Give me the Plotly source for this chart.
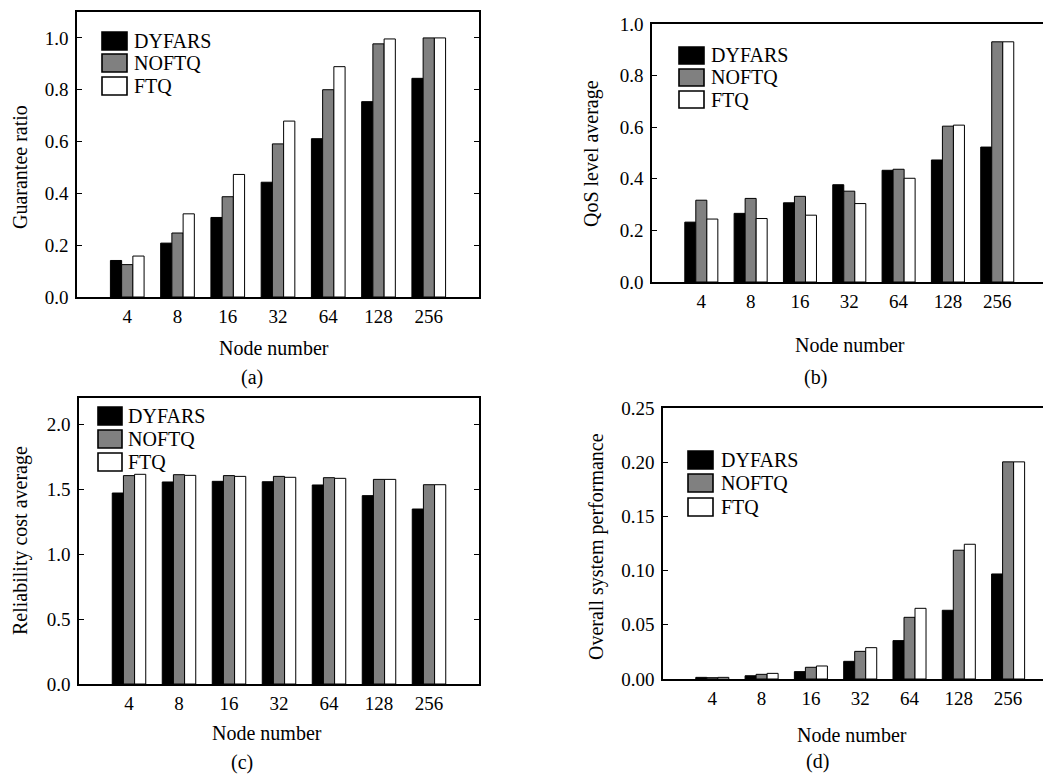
import plotly.graph_objects as go

# the page is rendered with an 8px body margin, so the figure is shrunk by that amount
OFF = 8
W, H = 1051 - OFF, 774 - OFF
FONT = "Liberation Serif"

nodes = ["4", "8", "16", "32", "64", "128", "256"]
series_names = ["DYFARS", "NOFTQ", "FTQ"]
series_colors = ["#000000", "#808080", "#ffffff"]

# (a) Guarantee ratio
a_dyfars = [0.141, 0.208, 0.307, 0.443, 0.611, 0.754, 0.844]
a_noftq = [0.125, 0.247, 0.387, 0.591, 0.800, 0.977, 1.000]
a_ftq = [0.158, 0.321, 0.473, 0.679, 0.889, 0.996, 1.000]

# (b) QoS level average
b_dyfars = [0.232, 0.266, 0.307, 0.377, 0.433, 0.473, 0.523]
b_noftq = [0.317, 0.324, 0.332, 0.352, 0.437, 0.604, 0.931]
b_ftq = [0.244, 0.246, 0.259, 0.304, 0.402, 0.608, 0.931]

# (c) Reliability cost average
c_dyfars = [1.469, 1.554, 1.559, 1.556, 1.531, 1.449, 1.346]
c_noftq = [1.603, 1.610, 1.603, 1.597, 1.587, 1.574, 1.533]
c_ftq = [1.613, 1.605, 1.597, 1.590, 1.582, 1.574, 1.533]

# (d) Overall system performance
d_dyfars = [0.0015, 0.0030, 0.0068, 0.0163, 0.0354, 0.0634, 0.0969]
d_noftq = [0.0012, 0.0043, 0.0108, 0.0255, 0.0569, 0.1188, 0.2003]
d_ftq = [0.0015, 0.0052, 0.0120, 0.0289, 0.0652, 0.1243, 0.2003]

panels = [
    dict(data=[a_dyfars, a_noftq, a_ftq], ytitle="Guarantee ratio", label="(a)",
         box=(77, 479, 12, 297), xr=[-1, 7], yr=[0, 1.1], dtick=0.2, fmt=".1f", mirror_y=True,
         leg=(102, 127, [32, 54, 77], 18, 132),
         ytitle_pos=(20, 167), xtitle_pos=(274, 348), label_pos=(252, 377)),
    dict(data=[b_dyfars, b_noftq, b_ftq], ytitle="QoS level average", label="(b)",
         box=(652, 1051, 24, 282), xr=[-1, 7.09], yr=[0, 1.0], dtick=0.2, fmt=".1f", mirror_y=False,
         leg=(679, 704, [47, 69, 91], 17, 709),
         ytitle_pos=(592, 154), xtitle_pos=(850, 345), label_pos=(815, 377)),
    dict(data=[c_dyfars, c_noftq, c_ftq], ytitle="Reliability cost average", label="(c)",
         box=(79, 479, 398, 684), xr=[-1, 7], yr=[0, 2.2], dtick=0.5, fmt=".1f", mirror_y=True,
         leg=(98, 122, [407, 430, 453], 18, 126),
         ytitle_pos=(20, 541), xtitle_pos=(267, 733), label_pos=(242, 762)),
    dict(data=[d_dyfars, d_noftq, d_ftq], ytitle="Overall system performance", label="(d)",
         box=(663, 1051, 408, 679), xr=[-1, 6.87], yr=[0, 0.25], dtick=0.05, fmt=".2f", mirror_y=False,
         leg=(688, 713, [451, 474, 498], 18, 719),
         ytitle_pos=(596, 547), xtitle_pos=(852, 735), label_pos=(817, 761)),
]

fig = go.Figure()
shapes = []
annotations = []

def px_x(v):
    return min(1.0, (v - OFF) / W)

def px_y(v):
    return 1 - (v - OFF) / H

for i, p in enumerate(panels):
    n = i + 1
    xa = "x" if n == 1 else f"x{n}"
    ya = "y" if n == 1 else f"y{n}"
    for vals, name, col in zip(p["data"], series_names, series_colors):
        fig.add_trace(go.Bar(
            x=list(range(len(nodes))), y=vals, name=name,
            marker=dict(color=col, line=dict(color="#000000", width=1)),
            xaxis=xa, yaxis=ya, showlegend=False,
        ))
    x0, x1, y0, y1 = p["box"]
    xkey = "xaxis" if n == 1 else f"xaxis{n}"
    ykey = "yaxis" if n == 1 else f"yaxis{n}"
    top_key = f"xaxis{n + 4}"
    fig.update_layout(**{
        xkey: dict(
            domain=[px_x(x0), px_x(x1)], anchor=ya, range=p["xr"],
            tickmode="array", tickvals=list(range(len(nodes))), ticktext=nodes,
            ticks="", showline=True, linecolor="black", linewidth=1.6, mirror=True,
            showgrid=False, zeroline=False, ticklabelstandoff=1, automargin=False,
            tickfont=dict(family=FONT, size=19, color="black"),
        ),
        ykey: dict(
            domain=[px_y(y1), px_y(y0)], anchor=xa, range=p["yr"],
            dtick=p["dtick"], tick0=0, tickformat=p["fmt"],
            ticks="inside", ticklen=5, tickwidth=1.2, tickcolor="black",
            showline=True, linecolor="black", linewidth=1.6,
            mirror="ticks" if p["mirror_y"] else False,
            showgrid=False, zeroline=False, ticklabelstandoff=3, automargin=False,
            tickfont=dict(family=FONT, size=19, color="black"),
        ),
        top_key: dict(
            overlaying=xa, anchor=ya, side="top", range=p["xr"],
            tickmode="array", tickvals=list(range(len(nodes))),
            ticks="inside", ticklen=4, tickwidth=1.2, tickcolor="black",
            showticklabels=False, showline=False, showgrid=False, zeroline=False,
            automargin=False,
        ),
    })
    # legend
    lx0, lx1, lys, lh, tx = p["leg"]
    for ly, name, col in zip(lys, series_names, series_colors):
        shapes.append(dict(type="rect", xref="paper", yref="paper",
                           x0=px_x(lx0), x1=px_x(lx1), y0=px_y(ly + lh), y1=px_y(ly),
                           fillcolor=col, line=dict(color="black", width=1.6)))
        annotations.append(dict(text=name, xref="paper", yref="paper",
                                x=px_x(tx), y=px_y(ly + lh / 2), xanchor="left", yanchor="middle",
                                showarrow=False, font=dict(family=FONT, size=20, color="black")))
    # titles
    tx_, ty_ = p["ytitle_pos"]
    annotations.append(dict(text=p["ytitle"], xref="paper", yref="paper",
                            x=px_x(tx_), y=px_y(ty_), xanchor="center", yanchor="middle",
                            textangle=-90, showarrow=False,
                            font=dict(family=FONT, size=20, color="black")))
    xx, xy = p["xtitle_pos"]
    annotations.append(dict(text="Node number", xref="paper", yref="paper",
                            x=px_x(xx), y=px_y(xy), xanchor="center", yanchor="middle",
                            showarrow=False, font=dict(family=FONT, size=20, color="black")))
    lbx, lby = p["label_pos"]
    annotations.append(dict(text=p["label"], xref="paper", yref="paper",
                            x=px_x(lbx), y=px_y(lby), xanchor="center", yanchor="middle",
                            showarrow=False, font=dict(family=FONT, size=20, color="black")))

fig.update_layout(
    width=W, height=H, margin=dict(l=0, r=0, t=0, b=0, autoexpand=False),
    paper_bgcolor="white", plot_bgcolor="white",
    barmode="group", bargap=0.33, bargroupgap=0,
    shapes=shapes, annotations=annotations,
    font=dict(family=FONT, color="black"),
)

fig.write_html("out.html")
